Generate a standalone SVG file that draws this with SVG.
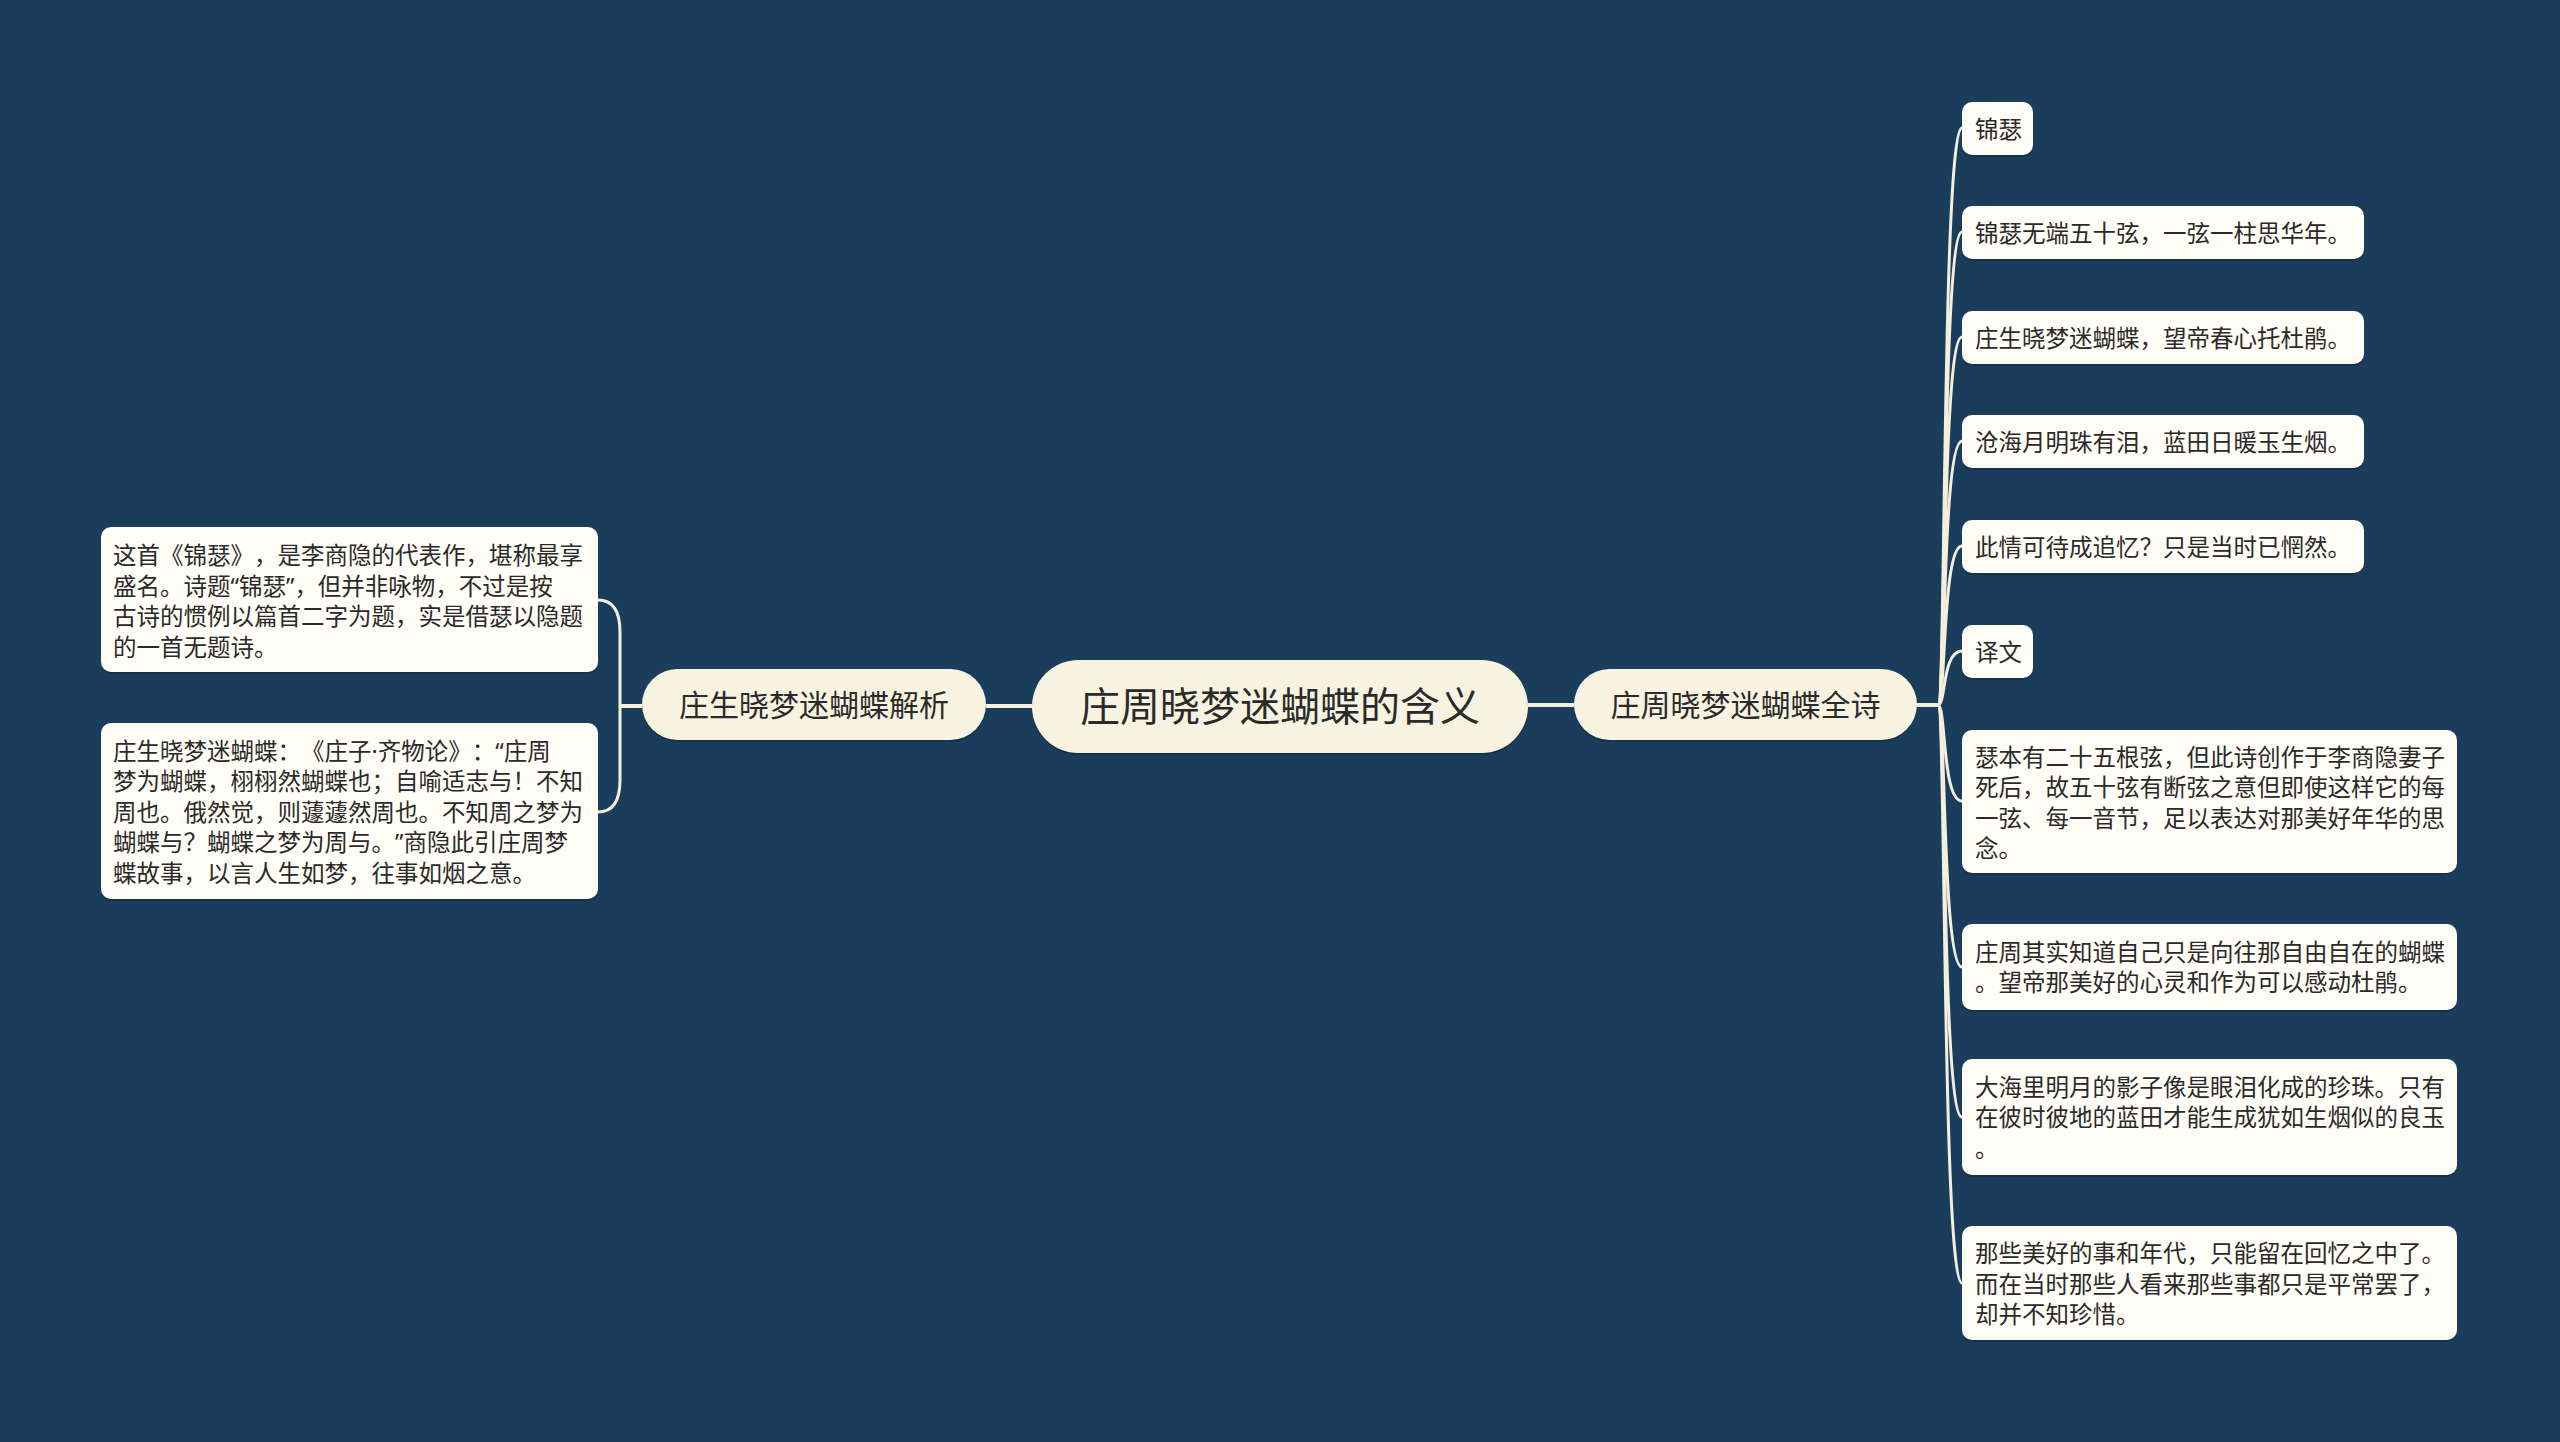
<svg xmlns="http://www.w3.org/2000/svg" width="2560" height="1442" viewBox="0 0 2560 1442">
<defs>
<style>
.t{font-family:"Noto Sans CJK SC","Noto Sans",sans-serif;fill:#2a2a2a;text-spacing-trim:space-all}
.p{font-family:"Noto Sans","Liberation Sans",sans-serif}
.leaf{fill:#fffdf6}
.sh{fill:#0e2a42;opacity:.55}
.pill{fill:#f8f3e1}
.lt{font-size:23.5px}
.c{fill:none;stroke:#f4efdc;stroke-width:3;stroke-linecap:round}
.cm{fill:none;stroke:#f4efdc;stroke-width:4}
</style>
</defs>
<rect width="2560" height="1442" fill="#1a3d5c"/>
<g id="connectors">
<path class="cm" d="M1528 705 H1574"/>
<path class="cm" d="M986 706 H1032"/>
<path class="cm" d="M1917 705 H1938"/>
<path class="cm" d="M642 706 H620"/>
<path class="c" d="M620 706 L620 632 Q620 600 598 600"/>
<path class="c" d="M620 706 L620 780 Q620 812 598 812"/>
<path class="c" d="M1938 705 C1946 705 1942 128 1962 128"/>
<path class="c" d="M1938 705 C1946 705 1942 232 1962 232"/>
<path class="c" d="M1938 705 C1946 705 1942 337 1962 337"/>
<path class="c" d="M1938 705 C1946 705 1942 441 1962 441"/>
<path class="c" d="M1938 705 C1946 705 1942 546 1962 546"/>
<path class="c" d="M1938 705 C1946 705 1942 651 1962 651"/>
<path class="c" d="M1938 705 C1946 705 1942 801 1962 801"/>
<path class="c" d="M1938 705 C1946 705 1942 967 1962 967"/>
<path class="c" d="M1938 705 C1946 705 1942 1117 1962 1117"/>
<path class="c" d="M1938 705 C1946 705 1942 1283 1962 1283"/>
</g>
<g id="root">
<rect class="sh" x="1032" y="662" width="496" height="93" rx="46.5"/>
<rect class="pill" x="1032" y="660" width="496" height="93" rx="46.5"/>
<text class="t" x="1280" y="721" font-size="40" text-anchor="middle">庄周晓梦迷蝴蝶的含义</text>
</g>
<g id="main-right">
<rect class="sh" x="1574" y="671" width="343" height="71" rx="35.5"/>
<rect class="pill" x="1574" y="669" width="343" height="71" rx="35.5"/>
<text class="t" x="1745.5" y="716" font-size="30" text-anchor="middle">庄周晓梦迷蝴蝶全诗</text>
</g>
<g id="main-left">
<rect class="sh" x="642" y="671" width="344" height="71" rx="35.5"/>
<rect class="pill" x="642" y="669" width="344" height="71" rx="35.5"/>
<text class="t" x="814" y="716" font-size="30" text-anchor="middle">庄生晓梦迷蝴蝶解析</text>
</g>
<g id="left-1">
<rect class="sh" x="101" y="529" width="497" height="145" rx="10"/>
<rect class="leaf" x="101" y="527" width="497" height="145" rx="10"/>
<text class="t lt" x="113"><tspan x="113" y="564">这首《锦瑟》，是李商隐的代表作，堪称最享</tspan><tspan x="113" y="594.5">盛名。诗题<tspan class="p">“</tspan>锦瑟<tspan class="p">”</tspan>，但并非咏物，不过是按</tspan><tspan x="113" y="625">古诗的惯例以篇首二字为题，实是借瑟以隐题</tspan><tspan x="113" y="655.5">的一首无题诗。</tspan></text>
</g>
<g id="left-2">
<rect class="sh" x="101" y="725" width="497" height="176" rx="10"/>
<rect class="leaf" x="101" y="723" width="497" height="176" rx="10"/>
<text class="t lt" x="113"><tspan x="113" y="759.5">庄生晓梦迷蝴蝶：《庄子<tspan class="p">·</tspan>齐物论》：<tspan class="p">“</tspan>庄周</tspan><tspan x="113" y="790">梦为蝴蝶，栩栩然蝴蝶也；自喻适志与！不知</tspan><tspan x="113" y="820.5">周也。俄然觉，则蘧蘧然周也。不知周之梦为</tspan><tspan x="113" y="851">蝴蝶与？蝴蝶之梦为周与。<tspan class="p">”</tspan>商隐此引庄周梦</tspan><tspan x="113" y="881.5">蝶故事，以言人生如梦，往事如烟之意。</tspan></text>
</g>
<g id="r1">
<rect class="sh" x="1962" y="104" width="71" height="53" rx="10"/>
<rect class="leaf" x="1962" y="102" width="71" height="53" rx="10"/>
<text class="t lt" x="1975" y="137.5">锦瑟</text>
</g>
<g id="r2">
<rect class="sh" x="1962" y="208" width="402" height="53" rx="10"/>
<rect class="leaf" x="1962" y="206" width="402" height="53" rx="10"/>
<text class="t lt" x="1975" y="241.5">锦瑟无端五十弦，一弦一柱思华年。</text>
</g>
<g id="r3">
<rect class="sh" x="1962" y="313" width="402" height="53" rx="10"/>
<rect class="leaf" x="1962" y="311" width="402" height="53" rx="10"/>
<text class="t lt" x="1975" y="346.5">庄生晓梦迷蝴蝶，望帝春心托杜鹃。</text>
</g>
<g id="r4">
<rect class="sh" x="1962" y="417" width="402" height="53" rx="10"/>
<rect class="leaf" x="1962" y="415" width="402" height="53" rx="10"/>
<text class="t lt" x="1975" y="450.5">沧海月明珠有泪，蓝田日暖玉生烟。</text>
</g>
<g id="r5">
<rect class="sh" x="1962" y="522" width="402" height="53" rx="10"/>
<rect class="leaf" x="1962" y="520" width="402" height="53" rx="10"/>
<text class="t lt" x="1975" y="555.5">此情可待成追忆？只是当时已惘然。</text>
</g>
<g id="r6">
<rect class="sh" x="1962" y="627" width="71" height="53" rx="10"/>
<rect class="leaf" x="1962" y="625" width="71" height="53" rx="10"/>
<text class="t lt" x="1975" y="660.5">译文</text>
</g>
<g id="r7">
<rect class="sh" x="1962" y="732" width="495" height="143" rx="10"/>
<rect class="leaf" x="1962" y="730" width="495" height="143" rx="10"/>
<text class="t lt"><tspan x="1975" y="765.5">瑟本有二十五根弦，但此诗创作于李商隐妻子</tspan><tspan x="1975" y="796">死后，故五十弦有断弦之意但即使这样它的每</tspan><tspan x="1975" y="826.5">一弦、每一音节，足以表达对那美好年华的思</tspan><tspan x="1975" y="857">念。</tspan></text>
</g>
<g id="r8">
<rect class="sh" x="1962" y="926" width="495" height="86" rx="10"/>
<rect class="leaf" x="1962" y="924" width="495" height="86" rx="10"/>
<text class="t lt"><tspan x="1975" y="960.5">庄周其实知道自己只是向往那自由自在的蝴蝶</tspan><tspan x="1975" y="991">。望帝那美好的心灵和作为可以感动杜鹃。</tspan></text>
</g>
<g id="r9">
<rect class="sh" x="1962" y="1061" width="495" height="116" rx="10"/>
<rect class="leaf" x="1962" y="1059" width="495" height="116" rx="10"/>
<text class="t lt"><tspan x="1975" y="1095.5">大海里明月的影子像是眼泪化成的珍珠。只有</tspan><tspan x="1975" y="1126">在彼时彼地的蓝田才能生成犹如生烟似的良玉</tspan><tspan x="1975" y="1156.5">。</tspan></text>
</g>
<g id="r10">
<rect class="sh" x="1962" y="1228" width="495" height="114" rx="10"/>
<rect class="leaf" x="1962" y="1226" width="495" height="114" rx="10"/>
<text class="t lt"><tspan x="1975" y="1262">那些美好的事和年代，只能留在回忆之中了。</tspan><tspan x="1975" y="1292.5">而在当时那些人看来那些事都只是平常罢了，</tspan><tspan x="1975" y="1323">却并不知珍惜。</tspan></text>
</g>
</svg>
